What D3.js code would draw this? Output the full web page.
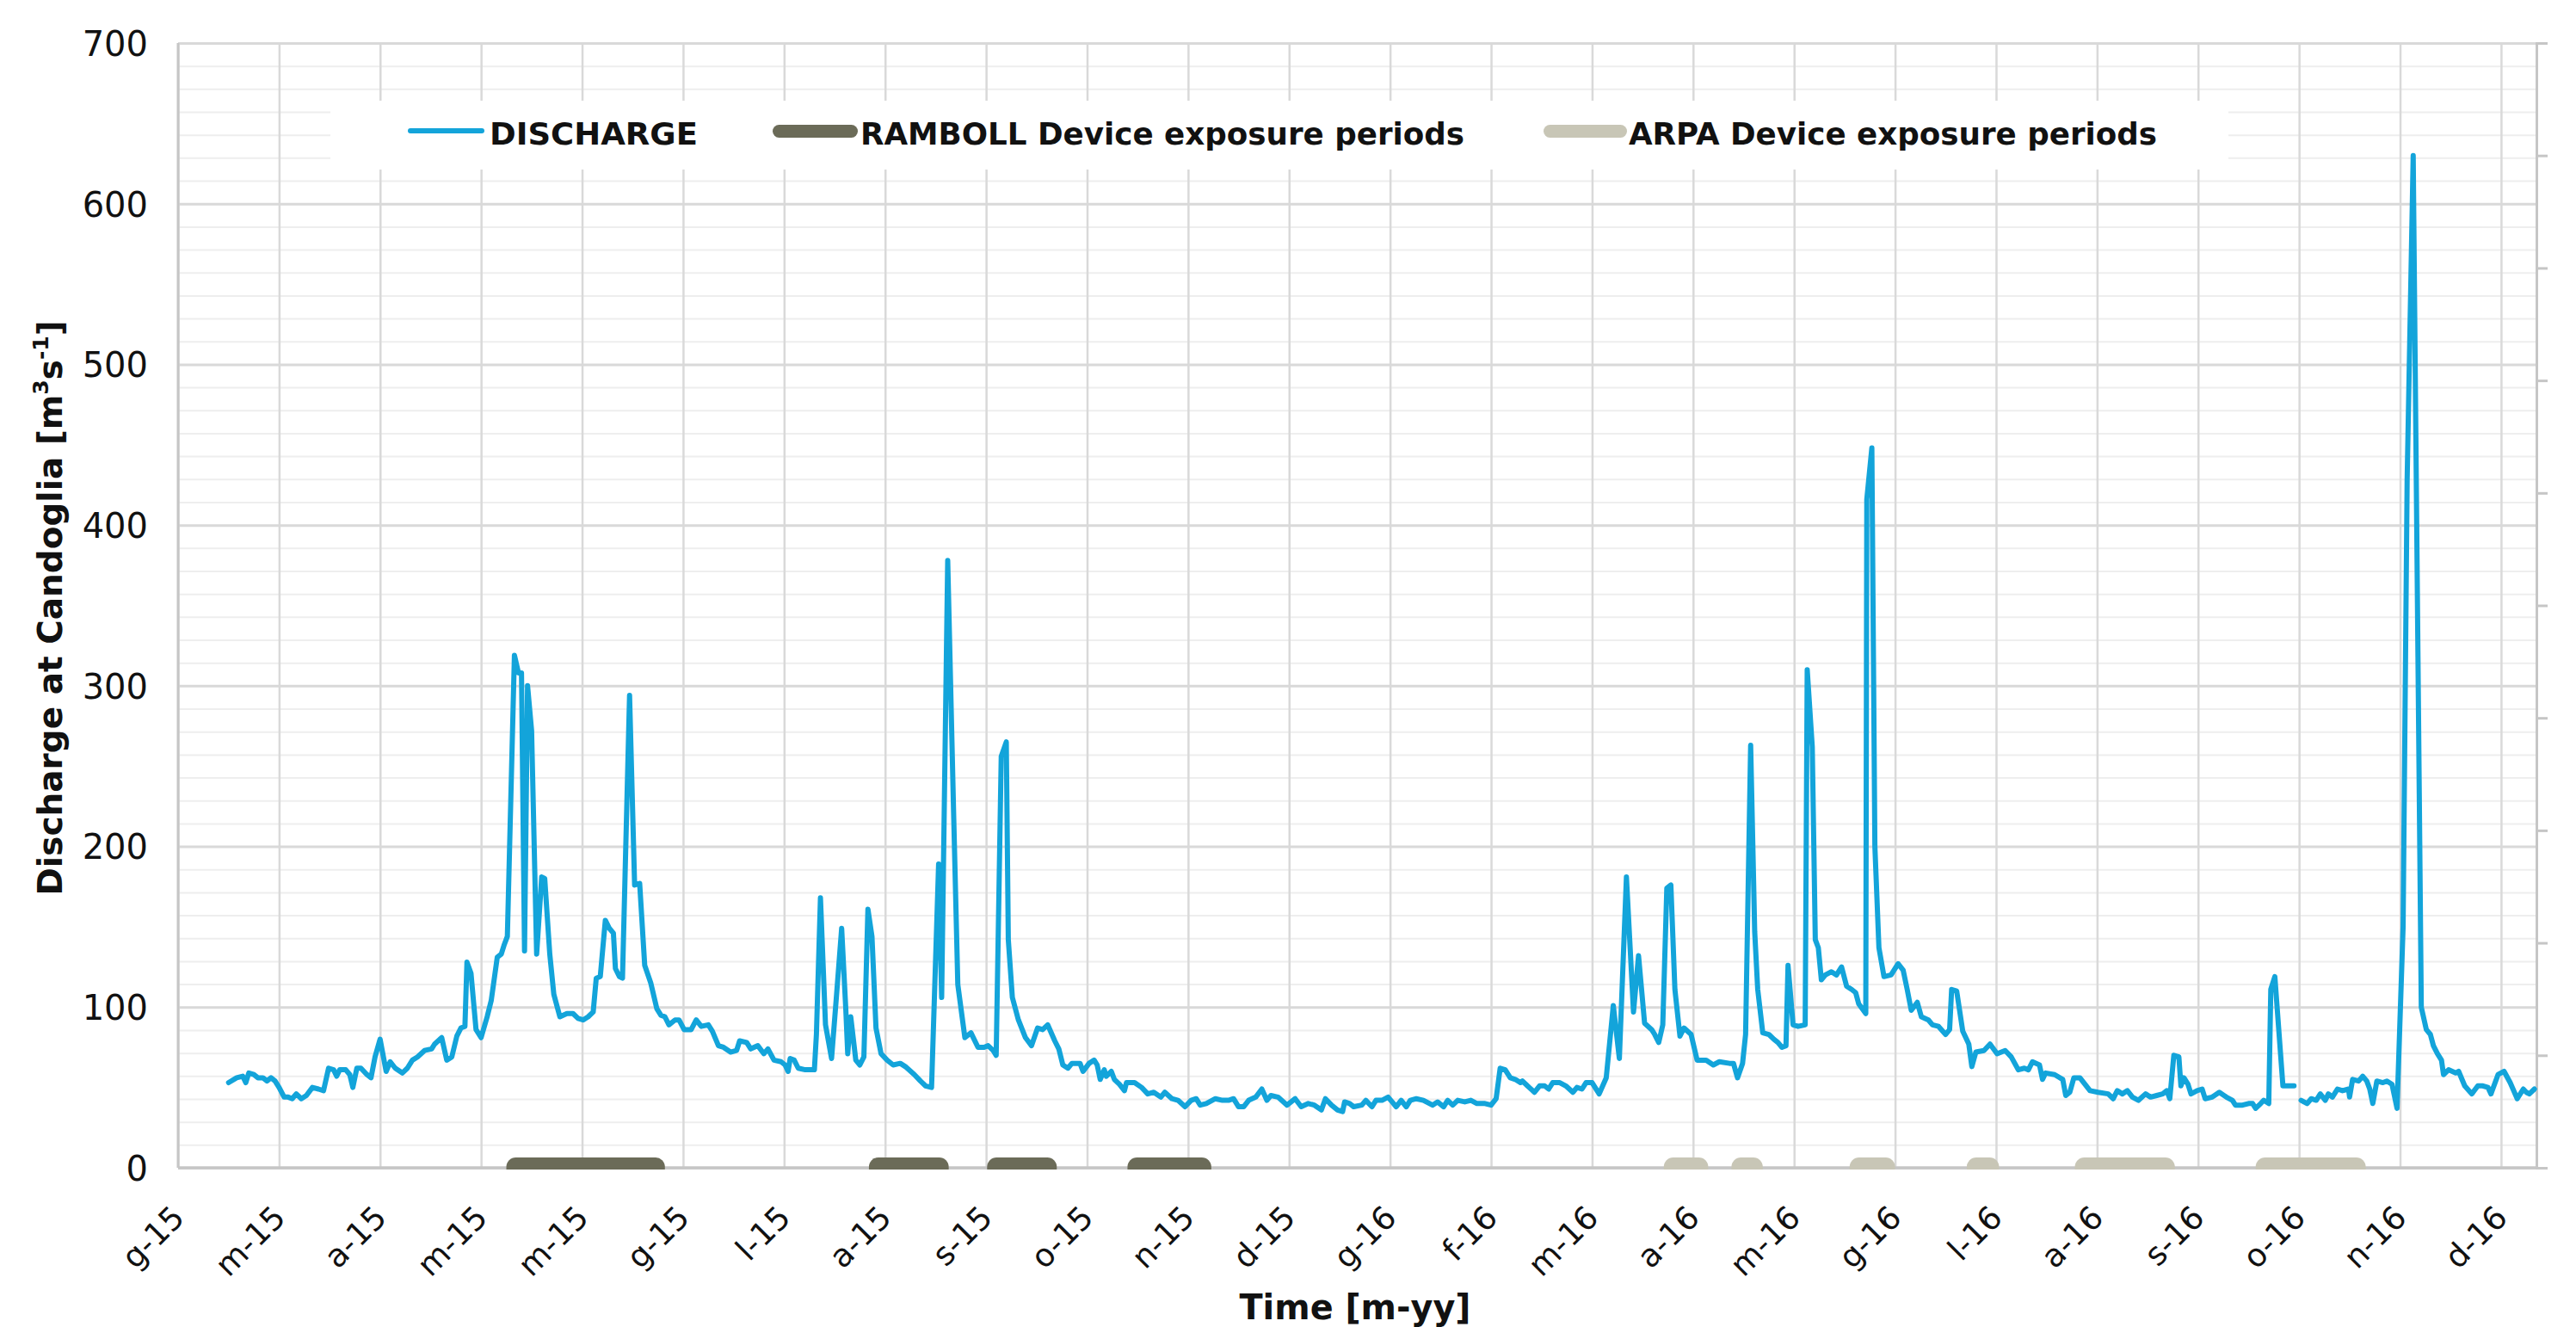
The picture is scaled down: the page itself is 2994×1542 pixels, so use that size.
<!DOCTYPE html>
<html><head><meta charset="utf-8">
<script src="https://cdn.jsdelivr.net/npm/d3@7"></script>
<style>
html,body{margin:0;padding:0;background:#fff;}
svg{display:block;}
</style></head><body>
<svg id="chart" width="2994" height="1542"></svg>
<script>
// ---------- DATA ----------
const monthLabels = ["g-15","m-15","a-15","m-15","m-15","g-15","l-15","a-15","s-15","o-15","n-15","d-15",
                     "g-16","f-16","m-16","a-16","m-16","g-16","l-16","a-16","s-16","o-16","n-16","d-16"];
const yTickValues = [0,100,200,300,400,500,600,700];
const seriesNames = ["DISCHARGE","RAMBOLL Device exposure periods","ARPA Device exposure periods"];
const axisTitles = {x:"Time [m-yy]", yMain:"Discharge at Candoglia [m", ySup1:"3", yMid:"s", ySup2:"-1", yEnd:"]"};

// time, in months elapsed since 1 January 2015 (one axis division per month)
const timeMonths = [
 0.50,0.58,0.64,0.67,0.70,0.75,0.79,0.84,0.88,0.92,
 0.96,1.00,1.05,1.09,1.13,1.17,1.22,1.27,1.33,1.39,
 1.44,1.49,1.54,1.57,1.60,1.66,1.70,1.73,1.77,1.81,
 1.87,1.91,1.95,2.00,2.06,2.10,2.15,2.22,2.27,2.32,
 2.37,2.44,2.51,2.54,2.61,2.66,2.71,2.76,2.80,2.84,
 2.86,2.90,2.95,3.00,3.06,3.10,3.16,3.20,3.23,3.26,
 3.33,3.37,3.40,3.43,3.46,3.50,3.55,3.60,3.63,3.68,
 3.72,3.78,3.85,3.91,3.96,4.01,4.06,4.11,4.14,4.18,
 4.23,4.27,4.31,4.33,4.37,4.40,4.47,4.52,4.57,4.62,
 4.68,4.74,4.78,4.82,4.86,4.92,4.96,5.01,5.08,5.13,
 5.18,5.25,5.29,5.35,5.40,5.47,5.53,5.56,5.63,5.67,
 5.74,5.80,5.84,5.90,5.97,6.01,6.04,6.06,6.10,6.14,
 6.21,6.30,6.32,6.36,6.41,6.47,6.52,6.57,6.61,6.63,
 6.66,6.71,6.75,6.79,6.83,6.87,6.91,6.96,7.02,7.08,
 7.15,7.20,7.29,7.35,7.40,7.46,7.53,7.56,7.62,7.68,
 7.72,7.79,7.85,7.92,7.98,8.02,8.07,8.10,8.15,8.20,
 8.22,8.26,8.32,8.39,8.45,8.51,8.56,8.61,8.68,8.72,
 8.76,8.81,8.85,8.93,8.96,9.02,9.07,9.10,9.13,9.17,
 9.19,9.24,9.27,9.32,9.37,9.39,9.47,9.54,9.60,9.66,
 9.73,9.77,9.84,9.90,9.97,10.03,10.08,10.12,10.18,10.27,
 10.34,10.40,10.45,10.50,10.55,10.60,10.67,10.73,10.78,10.82,
 10.89,10.98,11.06,11.12,11.19,11.25,11.32,11.36,11.42,11.48,
 11.53,11.55,11.60,11.64,11.72,11.76,11.82,11.86,11.92,11.98,
 12.02,12.06,12.11,12.16,12.20,12.26,12.33,12.42,12.47,12.53,
 12.57,12.62,12.67,12.74,12.80,12.86,12.94,13.00,13.05,13.09,
 13.14,13.19,13.24,13.29,13.31,13.36,13.43,13.48,13.53,13.57,
 13.61,13.68,13.74,13.81,13.85,13.90,13.94,14.00,14.07,14.14,
 14.21,14.27,14.34,14.41,14.46,14.52,14.59,14.62,14.66,14.70,
 14.74,14.78,14.82,14.87,14.91,14.98,15.04,15.13,15.20,15.26,
 15.36,15.40,15.44,15.49,15.52,15.57,15.61,15.64,15.69,15.75,
 15.80,15.84,15.88,15.92,15.94,15.99,16.04,16.11,16.13,16.18,
 16.21,16.24,16.27,16.31,16.37,16.42,16.47,16.52,16.57,16.61,
 16.64,16.71,16.72,16.77,16.80,16.84,16.89,16.96,17.03,17.08,
 17.12,17.16,17.22,17.26,17.33,17.37,17.43,17.50,17.54,17.56,
 17.61,17.67,17.73,17.76,17.80,17.88,17.94,18.01,18.09,18.15,
 18.22,18.28,18.32,18.36,18.43,18.46,18.49,18.58,18.66,18.69,
 18.73,18.77,18.83,18.93,19.01,19.11,19.16,19.20,19.25,19.30,
 19.35,19.41,19.48,19.53,19.59,19.65,19.69,19.72,19.76,19.81,
 19.83,19.86,19.90,19.93,19.99,20.04,20.07,20.14,20.21,20.28,
 20.34,20.37,20.44,20.50,20.54,20.57,20.62,20.65,20.70,20.72,
 20.76,20.84,20.95,20.98,21.02,21.08,21.12,21.17,21.21,21.26,
 21.29,21.33,21.38,21.43,21.49,21.50,21.53,21.59,21.63,21.67,
 21.70,21.73,21.77,21.83,21.87,21.92,21.97,22.03,22.07,22.13,
 22.19,22.21,22.26,22.30,22.33,22.37,22.41,22.43,22.48,22.55,
 22.58,22.64,22.71,22.77,22.82,22.87,22.90,22.97,23.03,23.09,
 23.16,23.22,23.25,23.28,23.33
];
// discharge at Candoglia, m3/s (null = missing reading)
const discharge = [
 53,56,57,53,59,58,56,56,54,56,
 54,50,44,44,43,46,43,45,50,49,
 48,62,61,57,61,61,58,50,62,62,
 58,56,69,80,60,66,62,59,62,67,
 69,73,74,77,81,67,69,82,87,88,
 128,121,86,81,94,104,131,133,139,144,
 319,308,308,135,300,272,133,181,180,133,
 108,94,96,96,93,92,94,97,118,119,
 154,149,146,124,119,118,294,176,177,126,
 115,99,95,94,89,92,92,86,86,92,
 88,89,85,76,75,72,73,79,78,74,
 76,71,74,67,66,64,60,68,67,62,
 61,61,83,168,89,68,108,149,100,71,
 94,67,64,69,161,144,87,71,67,64,
 65,63,58,54,51,50,189,106,378,217,
 114,81,84,75,75,76,73,70,256,265,
 142,106,92,81,76,87,86,89,79,74,
 64,62,65,65,60,65,67,64,55,61,
 57,60,55,52,48,53,53,50,46,47,
 44,47,43,42,38,42,43,39,40,43,
 42,42,43,38,38,42,44,49,42,45,
 44,39,43,38,40,39,36,43,39,36,
 35,41,40,38,39,42,38,42,42,44,
 41,38,42,38,42,43,42,39,41,38,
 42,39,42,41,42,40,40,39,43,62,
 61,56,55,53,54,51,47,51,51,49,
 53,53,51,47,50,49,53,53,46,56,
 101,68,181,97,132,90,86,83,78,89,
 174,176,111,82,87,83,67,67,64,66,
 65,65,56,65,83,263,147,111,84,83,
 80,78,75,76,126,89,88,89,310,262,
 142,137,117,120,122,120,125,113,111,109,
 102,96,416,448,200,137,119,120,127,123,
 111,98,103,94,92,89,88,83,86,111,
 110,85,77,63,72,73,77,71,73,69,
 61,62,61,66,64,55,59,58,55,45,
 47,56,56,48,47,46,43,48,46,48,
 44,42,46,44,45,46,48,43,70,69,
 51,56,52,46,48,49,43,44,47,44,
 42,39,39,40,40,37,40,42,40,111,
 119,51,51,null,42,40,43,42,46,42,
 46,44,49,48,49,44,55,54,57,54,
 49,40,54,53,54,52,37,150,428,630,
 233,100,86,83,76,71,67,58,61,59,
 60,51,46,51,51,50,46,58,60,53,
 43,49,47,46,49
];

// exposure periods (start / end, months since 1 January 2015)
const rambollStart = [3.25, 6.84, 8.01, 9.40];
const rambollEnd   = [4.82, 7.63, 8.70, 10.23];
const arpaStart    = [14.71, 15.38, 16.55, 17.71, 18.78, 20.57];
const arpaEnd      = [15.15, 15.69, 17.00, 18.03, 19.77, 21.66];

// ---------- CHART ----------
const W = 2994, H = 1542;
const m = {left:207, right:2948, top:50, bottom:1357};
const colors = {discharge:"#13a4da", ramboll:"#6b6b58", arpa:"#c8c6b6",
                major:"#d9d9d9", minor:"#eeeeee", axis:"#c6c6c6", text:"#111"};
const FONT = "'DejaVu Sans', sans-serif";

const x = d3.scaleLinear().domain([0, 23.35]).range([m.left, m.right]);
const y = d3.scaleLinear().domain([0, 700]).range([m.bottom, m.top]);

const svg = d3.select("#chart");
svg.append("rect").attr("width", W).attr("height", H).attr("fill", "#fff");

const plotW = m.right - m.left, plotH = m.bottom - m.top;

// minor horizontal grid
const minorVals = d3.range(0, 700.001, 100/7);
const gMinor = svg.append("g").attr("transform", `translate(${m.left},0)`)
  .call(d3.axisLeft(y).tickValues(minorVals).tickSize(-plotW).tickFormat(""));
gMinor.select(".domain").remove();
gMinor.selectAll("line").attr("stroke", colors.minor).attr("stroke-width", 2);

// major horizontal grid
const gMajor = svg.append("g").attr("transform", `translate(${m.left},0)`)
  .call(d3.axisLeft(y).tickValues(yTickValues).tickSize(-plotW).tickFormat(""));
gMajor.select(".domain").remove();
gMajor.selectAll("line").attr("stroke", colors.major).attr("stroke-width", 3);

// vertical month grid
const gVert = svg.append("g").attr("transform", `translate(0,${m.bottom})`)
  .call(d3.axisBottom(x).tickValues(d3.range(monthLabels.length)).tickSize(-plotH).tickFormat(""));
gVert.select(".domain").remove();
gVert.selectAll("line").attr("stroke", colors.major).attr("stroke-width", 2.5);

// frame line (left)
svg.append("line").attr("x1", m.left).attr("x2", m.left).attr("y1", m.top).attr("y2", m.bottom)
  .attr("stroke", colors.axis).attr("stroke-width", 3);

// right secondary axis (ticks only)
const y2 = d3.scaleLinear().domain([0, 10]).range([m.bottom, m.top]);
const gRight = svg.append("g").attr("transform", `translate(${m.right},0)`)
  .call(d3.axisRight(y2).ticks(10).tickSize(13).tickFormat(""));
gRight.select(".domain").attr("stroke", colors.axis).attr("stroke-width", 3);
gRight.selectAll("line").attr("stroke", colors.axis).attr("stroke-width", 3);

// legend background
const legend = svg.append("g");
legend.append("rect").attr("x", 384).attr("y", 117).attr("width", 2206).attr("height", 80).attr("fill", "#fff");

// x axis line
svg.append("line").attr("x1", m.left).attr("x2", m.right).attr("y1", y(0)).attr("y2", y(0))
  .attr("stroke", colors.axis).attr("stroke-width", 3.5);

// exposure periods
const periods = rambollStart.map((s,i) => ({s, e: rambollEnd[i], c: colors.ramboll}))
  .concat(arpaStart.map((s,i) => ({s, e: arpaEnd[i], c: colors.arpa})));
svg.append("clipPath").attr("id", "barclip").append("rect")
  .attr("x", 0).attr("y", m.top).attr("width", W).attr("height", plotH + 2);
svg.append("g").attr("clip-path", "url(#barclip)")
  .selectAll("rect").data(periods).join("rect")
  .attr("x", d => x(d.s)).attr("width", d => x(d.e) - x(d.s))
  .attr("y", y(0) - 12).attr("height", 24).attr("rx", 11).attr("ry", 11)
  .attr("fill", d => d.c);

// discharge line
const pts = timeMonths.map((t,i) => ({t, v: discharge[i]}));
const line = d3.line().defined(d => d.v !== null && d.v !== undefined)
  .x(d => x(d.t)).y(d => y(d.v));
svg.append("path").datum(pts).attr("d", line)
  .attr("fill", "none").attr("stroke", colors.discharge).attr("stroke-width", 6)
  .attr("stroke-linejoin", "round").attr("stroke-linecap", "round");

// y tick labels
const gY = svg.append("g").attr("transform", `translate(${m.left},0)`)
  .call(d3.axisLeft(y).tickValues(yTickValues).tickSize(0).tickPadding(35));
gY.select(".domain").remove();
gY.selectAll("text").attr("font-family", FONT).attr("font-size", 40).attr("fill", colors.text)
  .attr("dy", "0.36em");

// x tick labels
const gX = svg.append("g").attr("transform", `translate(0,${m.bottom})`)
  .call(d3.axisBottom(x).tickValues(d3.range(monthLabels.length)).tickSize(0).tickFormat(i => monthLabels[i]));
gX.select(".domain").remove();
gX.selectAll("text").attr("font-family", FONT).attr("font-size", 37).attr("fill", colors.text)
  .attr("x", 0).attr("y", 0).attr("dy", null)
  .attr("text-anchor", "end")
  .attr("transform", "translate(9,60) rotate(-45)");

// legend items
legend.append("line").attr("x1", 477).attr("x2", 560).attr("y1", 152).attr("y2", 152)
  .attr("stroke", colors.discharge).attr("stroke-width", 6).attr("stroke-linecap", "round");
legend.append("rect").attr("x", 898).attr("y", 145).attr("width", 99).attr("height", 15)
  .attr("rx", 7.5).attr("fill", colors.ramboll);
legend.append("rect").attr("x", 1794).attr("y", 145).attr("width", 97).attr("height", 15)
  .attr("rx", 7.5).attr("fill", colors.arpa);
const legendText = [
  {t: seriesNames[0], x: 569, w: 242},
  {t: seriesNames[1], x: 1000, w: 702},
  {t: seriesNames[2], x: 1893, w: 614}
];
legend.selectAll("text.leg").data(legendText).join("text").attr("class", "leg")
  .attr("x", d => d.x).attr("y", 168).text(d => d.t)
  .attr("font-family", FONT).attr("font-weight", "bold").attr("font-size", 35)
  .attr("fill", colors.text)
  .attr("textLength", d => d.w).attr("lengthAdjust", "spacingAndGlyphs");

// x axis title
svg.append("text").attr("x", 1575).attr("y", 1533).attr("text-anchor", "middle")
  .attr("font-family", FONT).attr("font-weight", "bold").attr("font-size", 40).attr("fill", colors.text)
  .attr("textLength", 269).attr("lengthAdjust", "spacingAndGlyphs")
  .text(axisTitles.x);

// y axis title
const yt = svg.append("text")
  .attr("transform", `translate(72,${(m.top + m.bottom) / 2 + 3}) rotate(-90)`)
  .attr("text-anchor", "middle")
  .attr("font-family", FONT).attr("font-weight", "bold").attr("font-size", 39).attr("fill", colors.text)
  .attr("textLength", 668).attr("lengthAdjust", "spacingAndGlyphs");
yt.append("tspan").text(axisTitles.yMain);
yt.append("tspan").attr("dy", -16).attr("font-size", 25).text(axisTitles.ySup1);
yt.append("tspan").attr("dy", 16).text(axisTitles.yMid);
yt.append("tspan").attr("dy", -16).attr("font-size", 25).text(axisTitles.ySup2);
yt.append("tspan").attr("dy", 16).text(axisTitles.yEnd);
</script>
</body></html>
